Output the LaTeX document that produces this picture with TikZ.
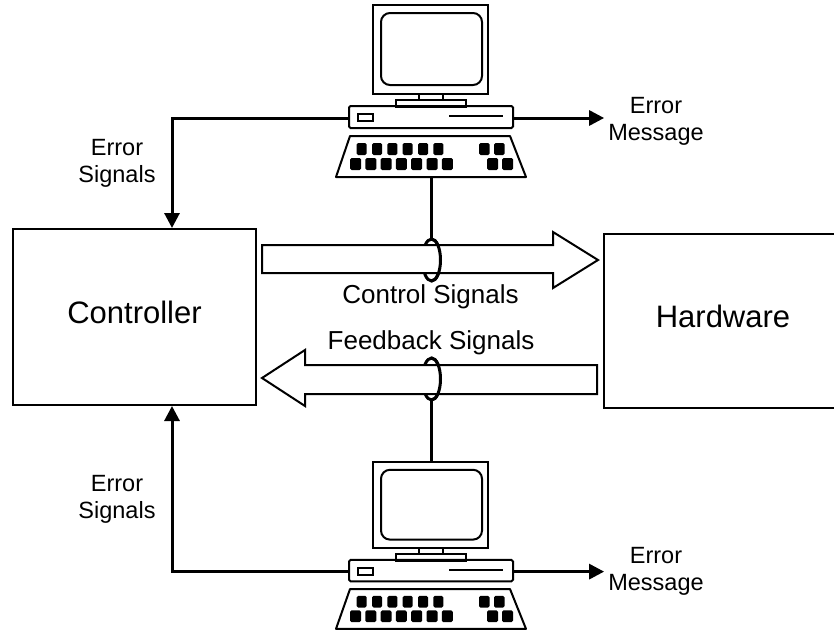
\documentclass[tikz,border=0pt]{standalone}
\usepackage{fontspec}
\setmainfont{Liberation Sans}
\usetikzlibrary{arrows.meta,shapes.geometric}

% desktop computer: monitor, system unit and keyboard
\tikzset{
  computer/.pic={
    \draw[outline] (0,0) rectangle (115,89);
    \draw[outline,rounded corners=9pt] (8,8) rectangle (109,80);
    \draw[outline] (46,89) rectangle (70,95);
    \draw[outline] (23,95) rectangle (93,102);
    \draw[outline,rounded corners=1.5pt] (-24,101) rectangle (140,123);
    \draw[outline] (-15,109) rectangle (0,116);
    \draw[outline] (76,111) -- (130,111);
    \draw[outline,line join=round] (-23,131) -- (137,131) -- (153,172) -- (-37,172) -- cycle;
    \foreach \k in {-16.3,-0.9,14.4,29.7,45,60.3}
      \fill[rounded corners=1.5pt] (\k,138) rectangle ++(10,12);
    \foreach \k in {-23,-7.7,7.6,22.9,38.2,53.5,68.8}
      \fill[rounded corners=1.5pt] (\k,153) rectangle ++(11,12);
    \foreach \k in {106,121}
      \fill[rounded corners=1.5pt] (\k,138) rectangle ++(10.5,12);
    \foreach \k in {114,129}
      \fill[rounded corners=1.5pt] (\k,153) rectangle ++(11,12);
    \coordinate (-left) at (-24,113);
    \coordinate (-right) at (140,113);
    \coordinate (-bottom) at (58.5,172);
    \coordinate (-top) at (58.5,0);
  }
}

\begin{document}
\begin{tikzpicture}[x=1pt,y=-1pt,
  outline/.style={line width=2pt},
  wire/.style={line width=3pt},
  sig/.style={wire,-{Triangle[length=15pt,width=15pt]}},
  block/.style={draw,line width=2pt,fill=white,text depth=10pt,
    font=\fontsize{31}{36}\selectfont},
  bigarrow/.style={draw,line width=2pt,fill=white,line join=miter},
  loopring/.style={draw,wire,ellipse,inner sep=0pt,outer sep=0pt,
    minimum width=18pt,minimum height=42pt},
  flow/.style={font=\fontsize{26}{30}\selectfont,anchor=base},
  note/.style={font=\fontsize{23.5}{27}\selectfont,align=center,inner sep=0pt,anchor=base},
]
\useasboundingbox (0,0) rectangle (834,629);

% main blocks
\node[block,minimum width=243pt,minimum height=176pt] (ctrl) at (134.5,317) {Controller};
\node[block,minimum width=238pt,minimum height=174pt] (hw) at (723,321) {Hardware};

% computers
\pic (pcA) at (373,5) {computer};
\pic[yscale=0.97] (pcB) at (373,462) {computer};

% rings where the cables clamp the signal arrows
\node[loopring] (loopA) at (431.5,260) {};
\node[loopring] (loopB) at (431.5,379) {};

% wide signal arrows
\path[bigarrow] (262,245) -- (553,245) -- (553,232) -- (598,260)
  -- (553,288) -- (553,273) -- (262,273) -- cycle;
\path[bigarrow] (597,365) -- (305,365) -- (305,350) -- (262,378)
  -- (305,406) -- (305,394) -- (597,394) -- cycle;

% front halves of the rings
\draw[wire] (loopA.south) arc[start angle=90,end angle=-90,x radius=9,y radius=21];
\draw[wire] (loopB.south) arc[start angle=90,end angle=-90,x radius=9,y radius=21];

% cables
\draw[wire] (pcA-bottom) -- (loopA.north);
\draw[wire] (loopB.south) -- (pcB-top);

% labels (a two-line label sits on the baseline of its last line)
\node[flow] (ctlsig) at (430.5,303) {Control Signals};
\node[flow] (fbsig) at (431,349) {Feedback Signals};
\node[note] (errA) at (117,182) {Error\\Signals};
\node[note] (errB) at (117,518) {Error\\Signals};
\node[note] (msgA) at (656,140) {Error\\Message};
\node[note] (msgB) at (656,590) {Error\\Message};

% error paths
\draw[sig] (pcA-left) -| ([xshift=160pt]ctrl.north west);
\draw[sig] (pcB-left) -| ([xshift=160pt]ctrl.south west);
\draw[sig,shorten >=4pt] (pcA-right) -- (msgA.west |- pcA-right);
\draw[sig,shorten >=4pt] (pcB-right) -- (msgB.west |- pcB-right);
\end{tikzpicture}
\end{document}
